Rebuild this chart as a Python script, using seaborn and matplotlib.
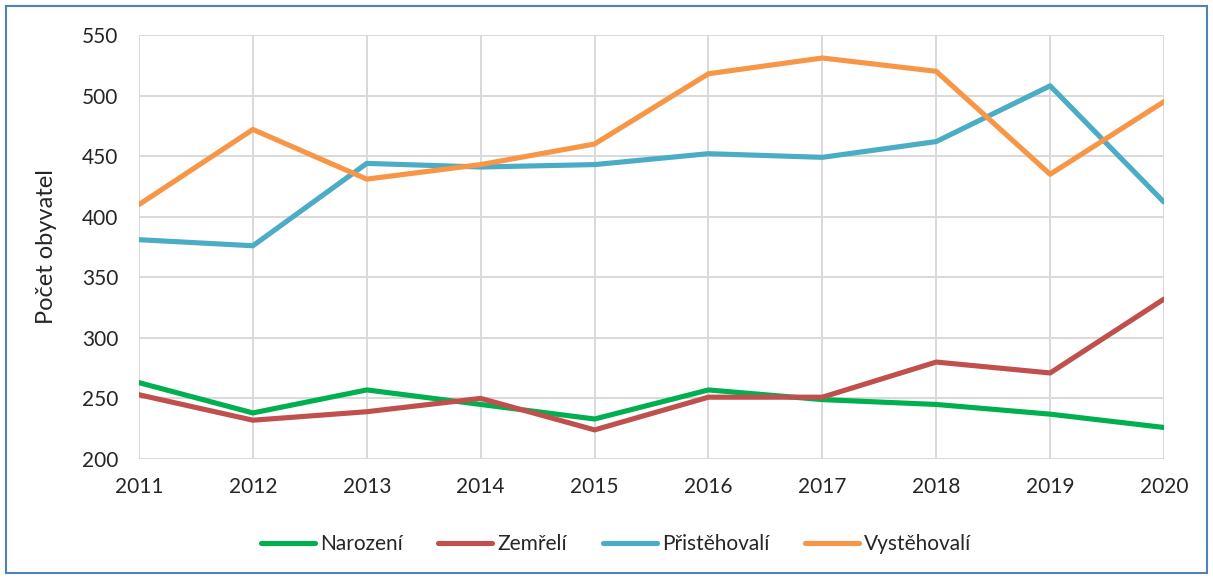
import pandas as pd
import seaborn as sns
import matplotlib.pyplot as plt
from matplotlib.patches import Rectangle

years = [2011, 2012, 2013, 2014, 2015, 2016, 2017, 2018, 2019, 2020]
narozeni = [263, 238, 257, 245, 233, 257, 249, 245, 237, 226]
zemreli = [253, 232, 239, 250, 224, 251, 251, 280, 271, 332]
pristehovali = [381, 376, 444, 441, 443, 452, 449, 462, 508, 412]
vystehovali = [410, 472, 431, 443, 460, 518, 531, 520, 435, 495]

series = ["Narození", "Zemřelí", "Přistěhovalí", "Vystěhovalí"]
colors = ["#00B050", "#C0504D", "#4BACC6", "#F79646"]

data = pd.DataFrame({
    "Rok": years * 4,
    "Počet": narozeni + zemreli + pristehovali + vystehovali,
    "Série": [s for s in series for _ in years],
})

sns.set_style("white")
plt.rcParams["font.family"] = ["Lato", "DejaVu Sans"]

fig = plt.figure(figsize=(12.13, 5.79), dpi=100)
ax = fig.add_axes([0.1146, 0.2073, 0.845, 0.7323])

sns.lineplot(
    data=data, x="Rok", y="Počet", hue="Série", hue_order=series,
    palette=dict(zip(series, colors)), linewidth=3.7, ax=ax,
    solid_capstyle="round", legend=False,
)

ax.set_xlim(2011, 2020)
ax.set_ylim(200, 550)
ax.set_xticks(years)
ax.set_yticks(range(200, 551, 50))
ax.grid(True, color="#D9D9D9", linewidth=1.4)
ax.set_axisbelow(True)
for s in ax.spines.values():
    s.set_visible(False)
ax.tick_params(axis="y", length=0, labelsize=15, pad=15)
ax.tick_params(axis="x", length=0, labelsize=15, pad=13)
ax.set_xlabel("")
ax.set_ylabel("Počet obyvatel", fontsize=17, labelpad=18)

handles = [plt.Line2D([], [], color=c, linewidth=3.7, solid_capstyle="round") for c in colors]
fig.legend(
    handles, series, loc="center", bbox_to_anchor=(616 / 1213, 1 - 544 / 579),
    ncol=4, frameon=False, fontsize=15, handlelength=2.6,
    columnspacing=1.7, handletextpad=0.25,
)

fig.patches.append(Rectangle((6 / 1213, 6 / 579), 1 - 12 / 1213, 1 - 12 / 579,
                             transform=fig.transFigure, fill=False,
                             edgecolor="#4F81BD", linewidth=1.5))

fig.savefig("out.png", dpi=100)
